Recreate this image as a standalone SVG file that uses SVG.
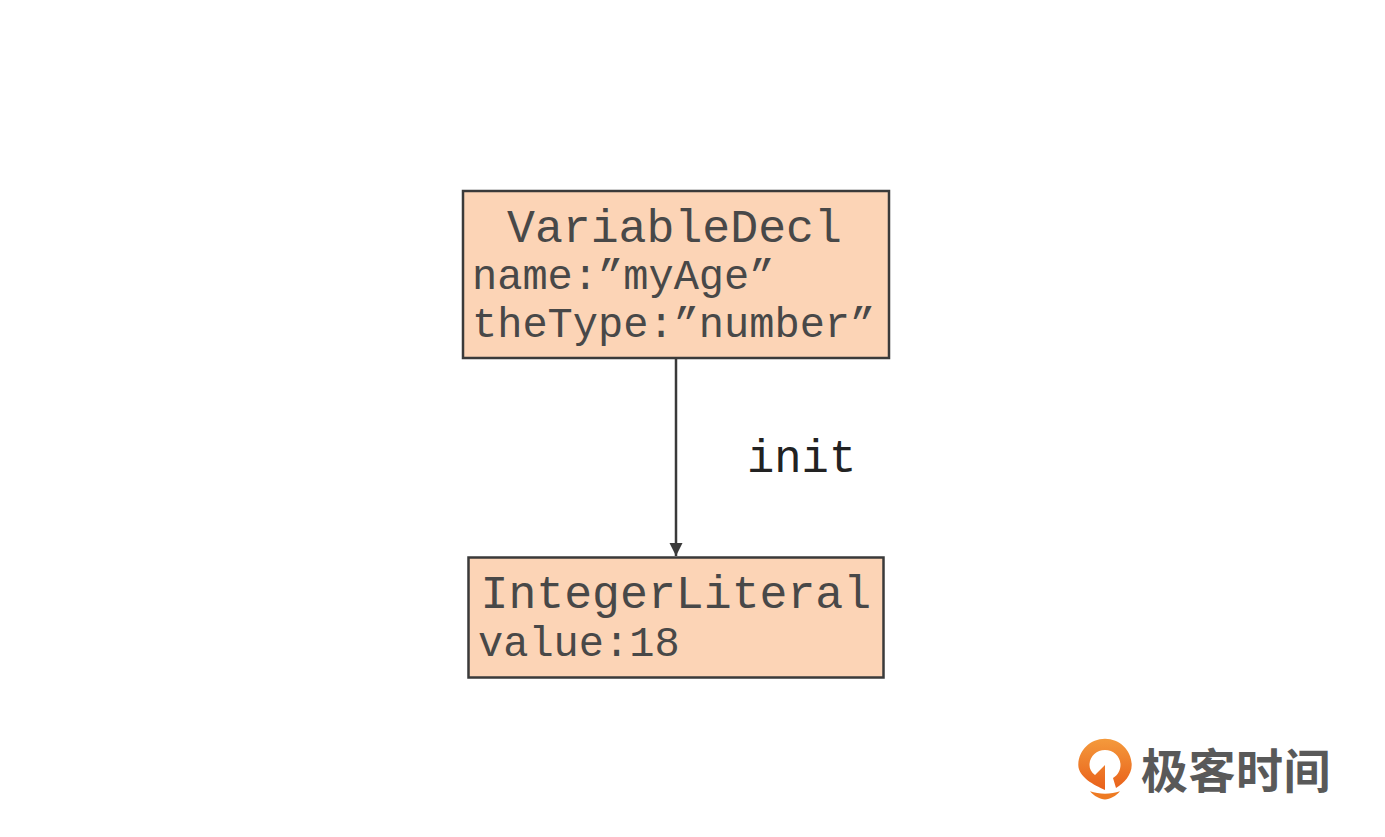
<svg xmlns="http://www.w3.org/2000/svg" width="1385" height="837" viewBox="0 0 1385 837">
<style>
.box{fill:#fcd4b6;stroke:#3a3a3a;stroke-width:2.500}
.t{font-family:"Liberation Mono","DejaVu Sans Mono",monospace;fill:#484848}
.head{font-size:46.500px}
.sub{font-size:42px}
.edge{fill:none;stroke:#3a3a3a;stroke-width:2.500}
</style>
<defs>
<marker id="arrow" markerUnits="userSpaceOnUse" markerWidth="14" markerHeight="14" refX="13" refY="7" orient="auto"><path d="M0,0.500L13,7L0,13.500Z" fill="#3a3a3a"/></marker>
<linearGradient id="lg" x1="0" y1="0" x2="0" y2="1"><stop offset="0" stop-color="#f49a3c"/><stop offset="1" stop-color="#e9601a"/></linearGradient>
</defs>
<rect width="1385" height="837" fill="#fff"/>
<g id="connectors">
<path class="edge" d="M676,358V556" marker-end="url(#arrow)"/>
<text x="747" y="472" font-family="'Liberation Mono',monospace" font-size="45.500" fill="#222">init</text>
</g>
<g id="node-variabledecl">
<rect class="box" x="463" y="191" width="426" height="167"/>
<text class="t head" x="507" y="242">VariableDecl</text>
<text class="t sub" x="472" y="289">name:”myAge”</text>
<text class="t sub" x="472" y="337">theType:”number”</text>
</g>
<g id="node-integerliteral">
<rect class="box" x="468.500" y="557.500" width="415" height="120"/>
<text class="t head" x="480.500" y="608">IntegerLiteral</text>
<text class="t sub" x="478" y="656">value:18</text>
</g>
<g id="logo">
<path fill="url(#lg)" d="M1105,738.700C1120,738.700 1131.700,750.500 1131.700,765C1131.700,775 1124,783 1116,788L1113,778C1118,775 1120.500,770 1120.500,765C1120.500,756.500 1113.500,750 1105,750C1096.500,750 1089.500,756.500 1089.500,765C1089.500,769 1091.500,772.500 1095,775L1105,765V790C1094,785 1078.300,777 1078.300,765C1078.300,750.500 1090,738.700 1105,738.700Z"/>
<path fill="#ee7a22" d="M1090,791.300C1099,794.500 1111,794.500 1120,791.300C1116,796 1110,799.500 1105,799.500C1100,799.500 1094,796 1090,791.300Z"/>
<text x="1141" y="788" font-family="'Noto Sans CJK SC',sans-serif" font-size="47" font-weight="700" letter-spacing="0.500" fill="#595959">极客时间</text>
</g>
</svg>
